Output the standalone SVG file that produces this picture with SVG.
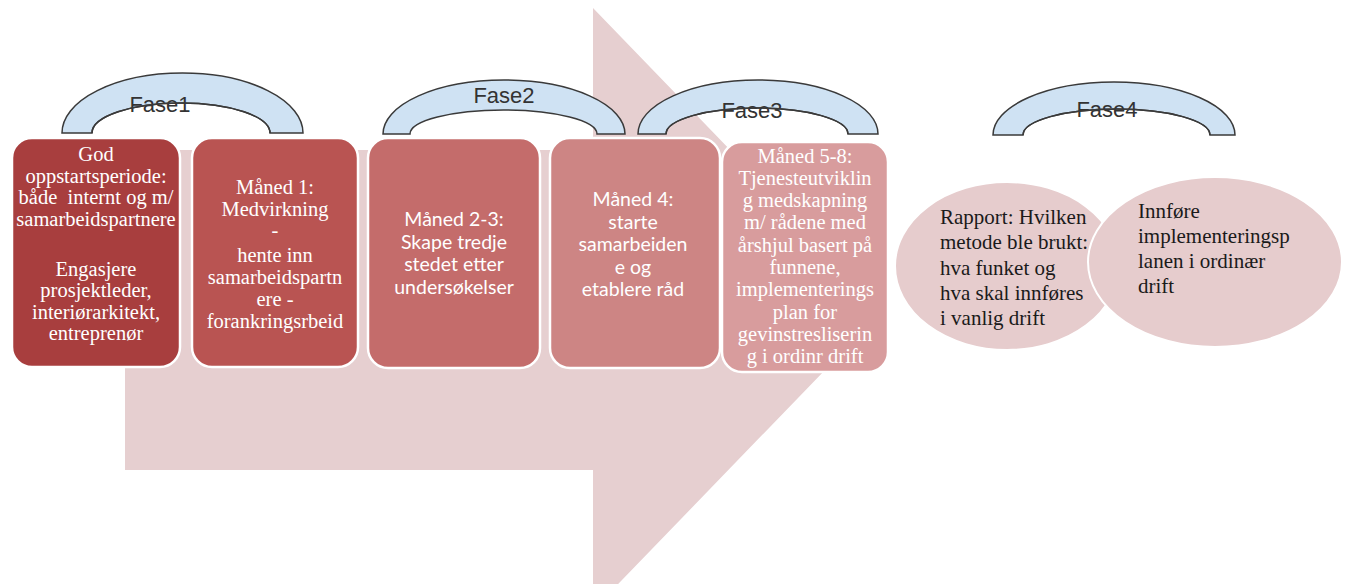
<svg xmlns="http://www.w3.org/2000/svg" width="1346" height="584" viewBox="0 0 1346 584">
<style>
.box{stroke:#ffffff;stroke-width:2.5}
.arc{fill:#cfe2f3;stroke:#3a3a3a;stroke-width:1.5}
.inner{fill:none;stroke:#3a3a3a;stroke-width:1.5}
.fase{font-family:"Liberation Sans",Arial,sans-serif;font-size:22px;fill:#333333;text-anchor:middle}
.ser{font-family:"Liberation Serif","Times New Roman",serif;font-size:20.5px;fill:#ffffff;text-anchor:middle}
.sans{font-family:Lato,"Open Sans",sans-serif;font-size:19.5px;fill:#ffffff;text-anchor:middle}
.ell{fill:#e6cccd;stroke:#ffffff;stroke-width:2}
.etx{font-family:"Liberation Serif","Times New Roman",serif;font-size:21px;fill:#1a1a1a}
</style>
<rect width="1346" height="584" fill="#ffffff"/>
<g id="arrow">
<polygon points="125,150 593,150 593,8 884,309 593,610 593,470 125,470" fill="#e6cfd0"/>
</g>
<g id="box1">
<rect class="box" x="12" y="138" width="168" height="229" rx="20" fill="#a83e3e"/>
<text class="ser"><tspan x="96" y="161">God</tspan><tspan x="96" y="183">oppstartsperiode:</tspan><tspan x="96" y="204">både&#160; internt og m/</tspan><tspan x="96" y="226">samarbeidspartnere</tspan><tspan x="96" y="276">Engasjere</tspan><tspan x="96" y="297">prosjektleder,</tspan><tspan x="96" y="319">interiørarkitekt,</tspan><tspan x="96" y="340">entreprenør</tspan></text>
</g>
<g id="box2">
<rect class="box" x="192" y="138" width="166" height="229" rx="20" fill="#b95452"/>
<text class="ser"><tspan x="275" y="194">Måned 1:</tspan><tspan x="275" y="216">Medvirkning</tspan><tspan x="275" y="237">-</tspan><tspan x="275" y="262">hente inn</tspan><tspan x="275" y="284">samarbeidspartn</tspan><tspan x="275" y="306">ere -</tspan><tspan x="275" y="328">forankringsrbeid</tspan></text>
</g>
<g id="box3">
<rect class="box" x="368" y="138" width="172" height="230" rx="20" fill="#c46c6b"/>
<text class="sans"><tspan x="454" y="226">Måned 2-3:</tspan><tspan x="454" y="249">Skape tredje</tspan><tspan x="454" y="271">stedet etter</tspan><tspan x="454" y="294">undersøkelser</tspan></text>
</g>
<g id="box4">
<rect class="box" x="550" y="138" width="170" height="230" rx="20" fill="#cd8584"/>
<text class="sans"><tspan x="633" y="206">Måned 4:</tspan><tspan x="633" y="229">starte</tspan><tspan x="633" y="251">samarbeiden</tspan><tspan x="633" y="274">e og</tspan><tspan x="633" y="296">etablere råd</tspan></text>
</g>
<g id="box5">
<rect class="box" x="722" y="142" width="166" height="230" rx="20" fill="#d89c9d"/>
<text class="ser"><tspan x="805" y="163">Måned 5-8:</tspan><tspan x="805" y="185">Tjenesteutviklin</tspan><tspan x="805" y="207">g medskapning</tspan><tspan x="805" y="229">m/ rådene med</tspan><tspan x="805" y="252">årshjul basert på</tspan><tspan x="805" y="274">funnene,</tspan><tspan x="805" y="296">implementerings</tspan><tspan x="805" y="319">plan for</tspan><tspan x="805" y="341">gevinstresliserin</tspan><tspan x="805" y="363">g i ordinr drift</tspan></text>
</g>
<g id="fase1">
<path class="arc" d="M62,133 A120.5,60 0 0 1 303,133 L270,133 A89,30 0 0 0 92,133 Z"/>
<text class="fase" x="160" y="112">Fase1</text>
<path class="inner" d="M270,133 A89,30 0 0 0 92,133"/>
</g>
<g id="fase2">
<path class="arc" d="M383,134 A121,54 0 0 1 625,134 L597,134 A93.5,24 0 0 0 410,134 Z"/>
<text class="fase" x="504" y="103">Fase2</text>
</g>
<g id="fase3">
<path class="arc" d="M638,134 A120,54 0 0 1 878,134 L848,134 A91,26 0 0 0 666,134 Z"/>
<text class="fase" x="752" y="118">Fase3</text>
<path class="inner" d="M848,134 A91,26 0 0 0 666,134"/>
</g>
<g id="fase4">
<path class="arc" d="M993,135 A121,53 0 0 1 1235,135 L1210,135 A93.5,26 0 0 0 1023,135 Z"/>
<text class="fase" x="1107" y="117">Fase4</text>
<path class="inner" d="M1210,135 A93.5,26 0 0 0 1023,135"/>
</g>
<g id="report">
<ellipse class="ell" cx="1007" cy="266" rx="112" ry="84"/>
</g>
<g id="innfore">
<ellipse class="ell" cx="1215" cy="262" rx="127" ry="85"/>
</g>
<g id="texts">
<text class="etx"><tspan x="940" y="224">Rapport: Hvilken</tspan><tspan x="940" y="249">metode ble brukt:</tspan><tspan x="940" y="275">hva funket og</tspan><tspan x="940" y="300">hva skal innføres</tspan><tspan x="940" y="325">i vanlig drift</tspan></text>
<text class="etx"><tspan x="1138" y="218">Innføre</tspan><tspan x="1138" y="243">implementeringsp</tspan><tspan x="1138" y="268">lanen i ordinær</tspan><tspan x="1138" y="293">drift</tspan></text>
</g>
<g id="connectors"></g>
</svg>
